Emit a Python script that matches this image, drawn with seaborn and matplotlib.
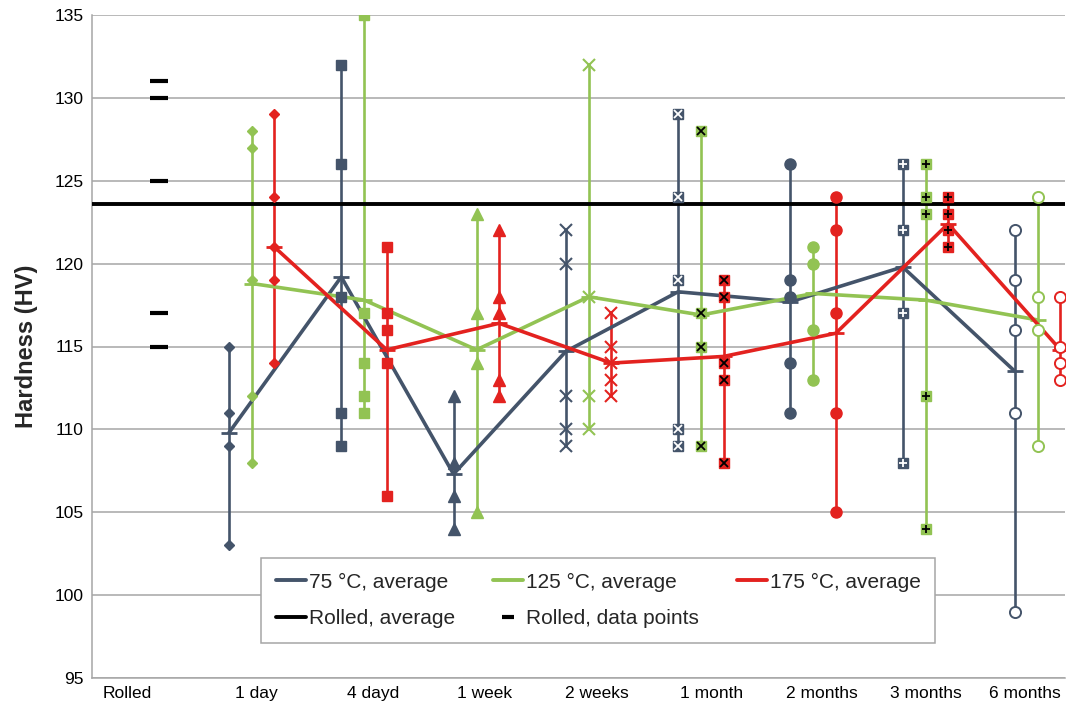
import numpy as np
import pandas as pd
import matplotlib
matplotlib.use("Agg")
import matplotlib.pyplot as plt
from matplotlib.lines import Line2D
import seaborn as sns

# ---- data ----
categories = ["Rolled", "1 day", "4 dayd", "1 week", "2 weeks",
              "1 month", "2 months", "3 months", "6 months"]

rolled_points = [131, 130, 125, 117, 115]
rolled_avg = 123.6

pts_75 = [
    [115, 111, 109, 103],
    [132, 126, 118, 111, 109],
    [112, 108, 106, 104],
    [122, 120, 112, 110, 109],
    [129, 124, 119, 110, 109],
    [126, 119, 118, 114, 111],
    [126, 122, 117, 108],
    [122, 119, 116, 111, 99],
]
pts_125 = [
    [128, 127, 119, 112, 108],
    [135, 117, 114, 112, 111],
    [123, 117, 114, 105],
    [132, 118, 112, 110],
    [128, 117, 115, 109],
    [121, 120, 116, 113],
    [126, 124, 123, 112, 104],
    [124, 118, 116, 109],
]
pts_175 = [
    [129, 124, 121, 119, 114],
    [121, 117, 116, 114, 106],
    [122, 118, 117, 113, 112],
    [117, 115, 114, 113, 112],
    [119, 118, 114, 113, 108],
    [124, 122, 117, 111, 105],
    [124, 123, 122, 121],
    [118, 115, 114, 113],
]

avg_75 = [109.8, 119.2, 107.3, 114.7, 118.3, 117.7, 119.8, 113.5]
avg_125 = [118.8, 117.8, 114.8, 118.0, 116.9, 118.2, 117.8, 116.6]
avg_175 = [121.0, 114.8, 116.4, 114.0, 114.4, 115.8, 122.4, 114.8]

series_names = ["75 °C, average", "125 °C, average", "175 °C, average"]

# ---- style ----
colors = ["#44546A", "#92C353", "#E3221F"]
inner = ["white", "black", "black"]
offsets = [-0.28, -0.075, 0.125]
grey = "#A6A6A6"

markers = [
    dict(marker="D", ms=5),
    dict(marker="s", ms=7.5),
    dict(marker="^", ms=8),
    dict(marker="x", ms=8),
    dict(marker="s", ms=7.5, overlay="x"),
    dict(marker="o", ms=8),
    dict(marker="s", ms=7.5, overlay="+"),
    dict(marker="o", ms=8, hollow=True),
]

sns.set_theme(style="white")
plt.rcParams["font.family"] = ["Liberation Sans", "DejaVu Sans"]

fig = plt.figure(figsize=(10.73, 7.08), dpi=100)
ax = fig.add_axes([92 / 1073, 30 / 708, 973 / 1073, 663 / 708])

# range lines and data markers
all_pts = [pts_75, pts_125, pts_175]
for s, pts in enumerate(all_pts):
    col = colors[s]
    for i, vals in enumerate(pts):
        x = i + 1 + offsets[s]
        ax.vlines(x, min(vals), max(vals), color=col, lw=1.9, zorder=2)
        m = markers[i]
        xs = [x] * len(vals)
        if m["marker"] == "x":
            ax.plot(xs, vals, ls="none", marker="x", ms=m["ms"], mew=1.5,
                    color=col, zorder=5)
        elif m.get("hollow"):
            ax.plot(xs, vals, ls="none", marker="o", ms=m["ms"], mew=1.4,
                    mfc="white", mec=col, zorder=5)
        else:
            ax.plot(xs, vals, ls="none", marker=m["marker"], ms=m["ms"],
                    mfc=col, mec=col, zorder=5)
            if "overlay" in m:
                ax.plot(xs, vals, ls="none", marker=m["overlay"], ms=m["ms"] - 1.5,
                        mew=1.3, color=inner[s], zorder=6)

# averages through seaborn
rows = []
for s, avg in enumerate([avg_75, avg_125, avg_175]):
    for i, v in enumerate(avg):
        rows.append({"x": i + 1 + offsets[s], "hardness": v, "series": series_names[s]})
df_avg = pd.DataFrame(rows)
n_before = len(ax.lines)
sns.lineplot(data=df_avg, x="x", y="hardness", hue="series",
             palette=dict(zip(series_names, colors)), marker="_",
             markersize=11, lw=2.6, sort=False,
             legend=False, ax=ax, zorder=4)
for line in ax.lines[n_before:]:
    line.set_markeredgecolor(line.get_color())
    line.set_markeredgewidth(2)

# rolled reference
ax.axhline(rolled_avg, color="black", lw=2.8, zorder=3)
ax.plot([0.1] * len(rolled_points), rolled_points, ls="none", marker="_",
        ms=13, mew=3, color="black", zorder=5)

# axes
ax.set_xlim(-0.5, 8.166)
ax.set_ylim(95, 135)
ax.set_yticks(np.arange(95, 136, 5))
ax.grid(axis="y", color=grey, lw=1.1)
ax.set_axisbelow(True)
for side in ["top", "right"]:
    ax.spines[side].set_visible(False)
for side in ["left", "bottom"]:
    ax.spines[side].set_color(grey)
    ax.spines[side].set_linewidth(1.1)

ax.set_xticks(np.arange(-0.5, 8.0, 1.0))
ax.set_xticklabels([])
ax.set_xticks([-0.19, 0.96, 2.0, 3.0, 4.0, 5.02, 6.0, 6.93, 7.81], minor=True)
ax.set_xticklabels(categories, minor=True)
ax.tick_params(axis="x", which="major", direction="out", length=4, color=grey, width=1.1)
ax.tick_params(axis="x", which="minor", length=0, pad=6, labelsize=12.5, labelcolor="black")
ax.tick_params(axis="y", direction="out", length=4, color=grey, width=1.1,
               labelsize=12.5, labelcolor="black", pad=2)
ax.set_xlabel("")
ax.set_ylabel("Hardness (HV)", fontsize=17, fontweight="bold", labelpad=12)

# legend (ordered so rows read like the reference)
h = [Line2D([], [], color=c, lw=2.8) for c in colors]
h_rolled = Line2D([], [], color="black", lw=2.8)
h_pts = Line2D([], [], ls="none", marker="_", ms=9, mew=3, color="black")
handles = [h[0], h_rolled, h[1], h_pts, h[2]]
labels = [series_names[0], "Rolled, average", series_names[1],
          "Rolled, data points", series_names[2]]
leg = ax.legend(handles, labels, ncol=3, loc="lower left",
                bbox_to_anchor=(0.174, 0.053), borderaxespad=0,
                fontsize=15, frameon=True, fancybox=False, framealpha=1,
                edgecolor=grey, handlelength=1.45, handletextpad=0.15,
                columnspacing=1.8, labelspacing=0.85, borderpad=0.7)
leg.get_frame().set_linewidth(1.1)

fig.savefig("out.png", dpi=100)
